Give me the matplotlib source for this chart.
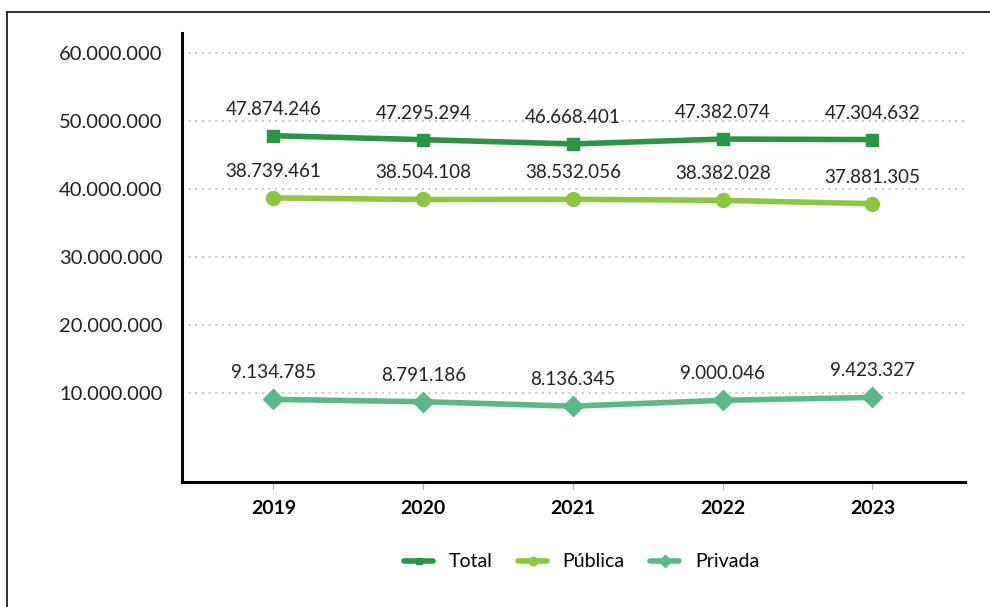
import matplotlib.pyplot as plt
from matplotlib.lines import Line2D

anios = ["2019", "2020", "2021", "2022", "2023"]
total = [47874246, 47295294, 46668401, 47382074, 47304632]
publica = [38739461, 38504108, 38532056, 38382028, 37881305]
privada = [9134785, 8791186, 8136345, 9000046, 9423327]

def fmt(v):
    return f"{v:,.0f}".replace(",", ".")

plt.rcParams['font.family'] = ['Lato', 'DejaVu Sans']

fig = plt.figure(figsize=(9.9, 6.07), dpi=100)
ax = fig.add_axes([0.184, 0.206, 0.791, 0.74])

x = list(range(len(anios)))
series = [
    ("Total", total, "#2b9445", "s", 8),
    ("Pública", publica, "#8dc641", "o", 10),
    ("Privada", privada, "#5db889", "D", 10),
]
for nombre, vals, color, mk, ms in series:
    ax.plot(x, vals, color=color, marker=mk, markersize=ms, linewidth=4,
            label=nombre, solid_capstyle="round")
    for xi, v in zip(x, vals):
        ax.annotate(fmt(v), (xi, v), xytext=(0, 13), textcoords="offset points",
                    ha="center", va="bottom", fontsize=13.5, color="#222222")

ax.set_xlim(-0.61, 4.62)
ax.set_ylim(-3000000, 63000000)
ax.set_xticks(x)
ax.set_xticklabels(anios, fontsize=14, fontweight="bold")
yt = [10000000, 20000000, 30000000, 40000000, 50000000, 60000000]
ax.set_yticks(yt)
ax.set_yticklabels([fmt(v) for v in yt], fontsize=14.5, color="#222222")
ax.tick_params(axis="y", length=0, pad=14)
ax.tick_params(axis="x", length=5, color="#aaaaaa", pad=8)
ax.grid(axis="y", linestyle=(0, (1, 3)), color="#bbbbbb", linewidth=1.2)
ax.set_axisbelow(True)
for s in ["top", "right"]:
    ax.spines[s].set_visible(False)
for s in ["left", "bottom"]:
    ax.spines[s].set_linewidth(2.2)
    ax.spines[s].set_color("black")

ax.legend(loc="upper center", bbox_to_anchor=(0.51, -0.12), ncol=3, frameon=False,
          fontsize=14, handlelength=1.5, columnspacing=1.3, markerscale=0.6)

# marco de la imagen
fig.add_artist(Line2D([0.007, 1.0], [1 - 12 / 607, 1 - 12 / 607], color="#222222", linewidth=1.3))
fig.add_artist(Line2D([0.007, 0.007], [0, 1 - 12 / 607], color="#222222", linewidth=1.3))

fig.savefig("out.png", dpi=100)
